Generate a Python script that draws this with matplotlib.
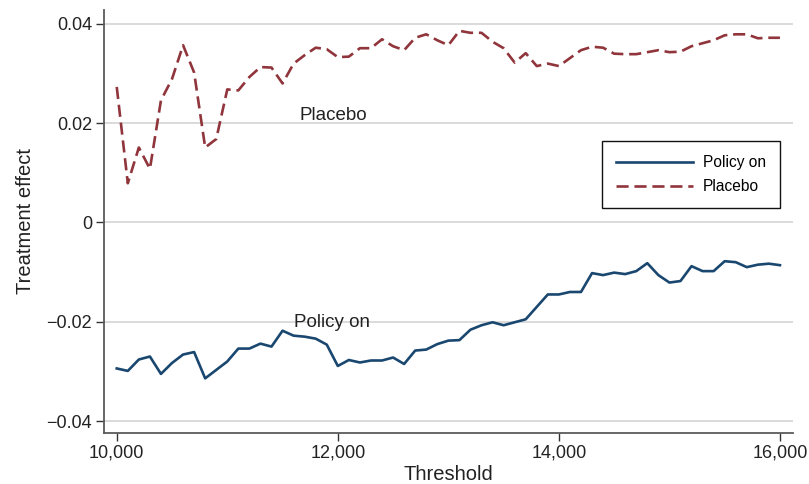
import numpy as np
import matplotlib
matplotlib.use('Agg')
import matplotlib.pyplot as plt
from matplotlib.ticker import FuncFormatter

# 閾値 (10,000 ~ 16,000, 100刻み)
thresholds = list(range(10000, 16001, 100))

# Policy on の推定値
policy_on = [
    -0.0294, -0.0299, -0.0276, -0.0270, -0.0305, -0.0283, -0.0266, -0.0261, -0.0314, -0.0297,
    -0.0280, -0.0254, -0.0254, -0.0244, -0.0250, -0.0218, -0.0228, -0.0230, -0.0234, -0.0246,
    -0.0289, -0.0277, -0.0282, -0.0278, -0.0278, -0.0272, -0.0285, -0.0258, -0.0256, -0.0245,
    -0.0238, -0.0237, -0.0216, -0.0207, -0.0201, -0.0207, -0.0201, -0.0195, -0.0170, -0.0145,
    -0.0145, -0.0140, -0.0140, -0.0102, -0.0106, -0.0101, -0.0104, -0.0098, -0.0082, -0.0106,
    -0.0121, -0.0118, -0.0088, -0.0098, -0.0098, -0.0078, -0.0080, -0.0090, -0.0085, -0.0083,
    -0.0086,
]

# Placebo の推定値
placebo = [
    0.0273, 0.0079, 0.0151, 0.0108, 0.0246, 0.0289, 0.0357, 0.0302, 0.0151, 0.0168,
    0.0268, 0.0266, 0.0293, 0.0313, 0.0312, 0.0280, 0.0320, 0.0337, 0.0352, 0.0349,
    0.0333, 0.0334, 0.0351, 0.0351, 0.0369, 0.0355, 0.0347, 0.0372, 0.0379, 0.0367,
    0.0357, 0.0386, 0.0382, 0.0382, 0.0364, 0.0351, 0.0322, 0.0341, 0.0315, 0.0320,
    0.0315, 0.0331, 0.0347, 0.0354, 0.0352, 0.0340, 0.0339, 0.0339, 0.0343, 0.0347,
    0.0343, 0.0344, 0.0355, 0.0361, 0.0367, 0.0377, 0.0379, 0.0379, 0.0371, 0.0372,
    0.0372,
]

xticks = [10000, 12000, 14000, 16000]
yticks = [-0.04, -0.02, 0, 0.02, 0.04]

plt.rcParams['font.family'] = ['Liberation Sans', 'DejaVu Sans']

fig = plt.figure(figsize=(8.09, 4.84), dpi=100)
ax = fig.add_axes([0.1286, 0.1054, 0.8516, 0.8740])

navy = '#1a476f'
maroon = '#90353b'

ax.plot(thresholds, policy_on, color=navy, lw=1.9, label='Policy on', zorder=3)
ax.plot(thresholds, placebo, color=maroon, lw=1.9, dashes=(4.6, 2.2), label='Placebo', zorder=3)

# 線上のラベル
ax.text(11650, 0.0215, 'Placebo', fontsize=13.5, color='#222222', va='center', ha='left')
ax.text(11600, -0.0202, 'Policy on', fontsize=13.5, color='#222222', va='center', ha='left')

# 軸範囲と目盛
ax.set_xlim(9885, 16118)
ax.set_ylim(-0.0424, 0.0428)
ax.set_xticks(xticks)
ax.set_yticks(yticks)
ax.xaxis.set_major_formatter(FuncFormatter(lambda v, p: f'{int(v):,}'))
ax.yaxis.set_major_formatter(FuncFormatter(
    lambda v, p: '0' if abs(v) < 1e-9 else f'{v:.2f}'.replace('-', '\u2212')))

ax.grid(axis='y', color='#d4d4d4', lw=1.2)
ax.set_axisbelow(True)

for side in ['top', 'right']:
    ax.spines[side].set_visible(False)
for side in ['left', 'bottom']:
    ax.spines[side].set_color('#5a5a5a')
    ax.spines[side].set_linewidth(1.3)

ax.tick_params(axis='both', direction='out', length=5.5, width=1.0, color='#333333',
               labelsize=13, labelcolor='#222222', pad=3)

ax.set_xlabel('Threshold', fontsize=14.5, color='#222222', labelpad=2)
ax.set_ylabel('Treatment effect', fontsize=14.5, color='#222222', labelpad=8)

leg = ax.legend(loc='upper right', bbox_to_anchor=(0.981, 0.690), borderaxespad=0,
                fontsize=11.2, fancybox=False, framealpha=1, edgecolor='#111111',
                handlelength=5.0, handletextpad=0.6, borderpad=0.9, labelspacing=0.6)
leg.get_frame().set_linewidth(1.0)

fig.savefig('out.png', dpi=100)
